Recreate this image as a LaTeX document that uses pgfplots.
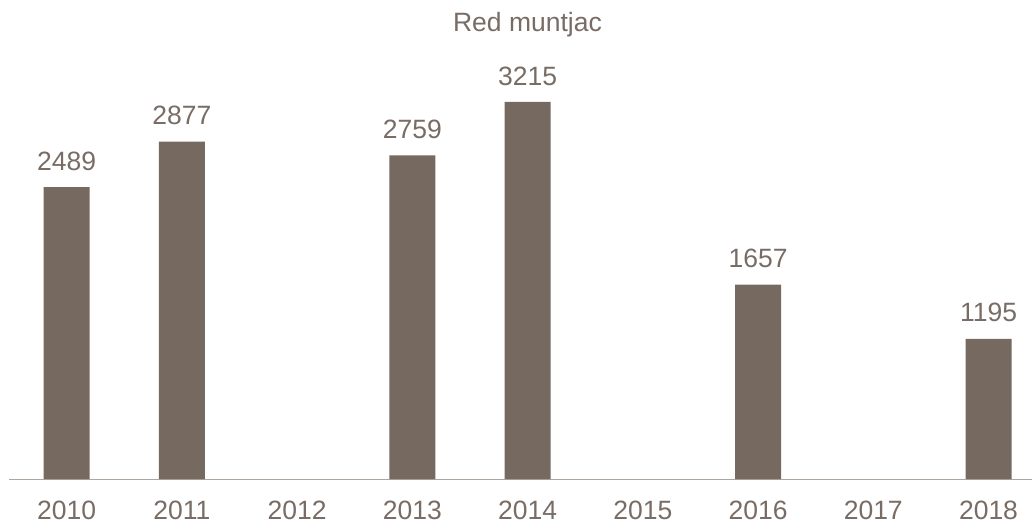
\documentclass[border=0pt]{standalone}
\usepackage{pgfplots}
\pgfplotsset{compat=1.18}
\usepackage{fontspec}
\setmainfont{Liberation Sans}
\definecolor{barc}{HTML}{766960}
\definecolor{txtc}{HTML}{786C64}
\definecolor{axc}{HTML}{ADA59E}
\begin{document}
\begin{tikzpicture}
\path[use as bounding box] (0,0) rectangle (1032pt,524pt);
\begin{axis}[
  at={(9pt,45pt)}, anchor=south west,
  scale only axis,
  width=1023pt, height=439pt,
  xmin=-0.5, xmax=8.377,
  ymin=0, ymax=3743,
  axis y line=none,
  axis x line*=bottom,
  axis line style={draw=axc, line width=1pt, -},
  xtick={0,1,2,3,4,5,6,7,8},
  xticklabels={2010,2011,2012,2013,2014,2015,2016,2017,2018},
  major tick length=0pt,
  xtick style={draw=none},
  xticklabel style={anchor=center, yshift=-31pt, font=\fontsize{26.5}{30}\selectfont, text=txtc},
  title={Red muntjac},
  title style={at={(rel axis cs:0.5,1)}, anchor=base, yshift=2pt, xshift=7pt, font=\fontsize{26.5}{30}\selectfont, text=txtc},
  ybar, bar width=46pt,
  nodes near coords,
  /pgf/number format/assume math mode=true,
  /pgf/number format/1000 sep={},
  nodes near coords style={anchor=center, yshift=26pt, font=\fontsize{26.5}{30}\selectfont, text=txtc},
  clip=false,
]
\addplot[fill=barc, draw=none] coordinates {(0,2489) (1,2877) (3,2759) (4,3215) (6,1657) (8,1195)};
\end{axis}
\end{tikzpicture}
\end{document}
